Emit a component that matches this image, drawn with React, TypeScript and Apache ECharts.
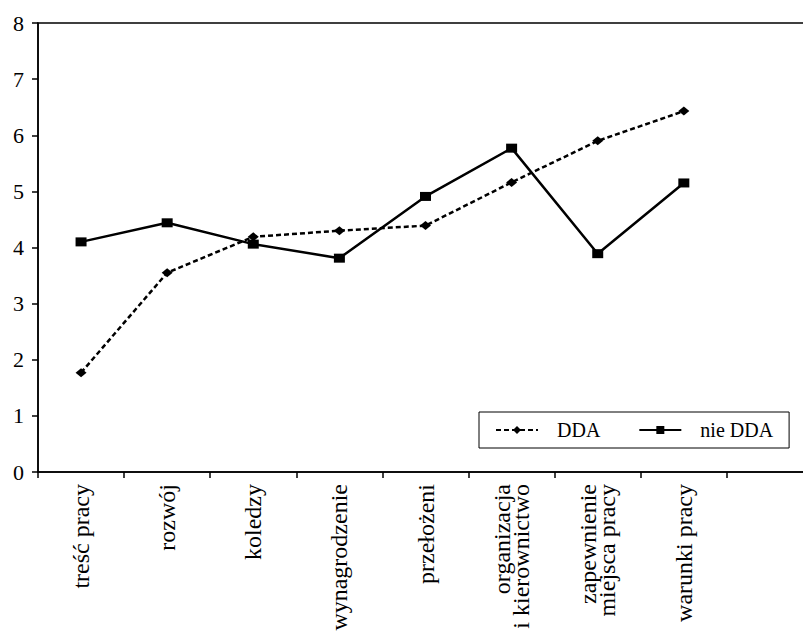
import React, { useEffect, useRef } from "react";
import * as echarts from "echarts";

const categories = [
  "treść pracy",
  "rozwój",
  "koledzy",
  "wynagrodzenie",
  "przełożeni",
  "organizacja\ni kierownictwo",
  "zapewnienie\nmiejsca pracy",
  "warunki pracy",
  "",
];
const ddaValues = [1.77, 3.55, 4.19, 4.3, 4.39, 5.16, 5.9, 6.43];
const nieDdaValues = [4.1, 4.44, 4.06, 3.81, 4.91, 5.77, 3.89, 5.15];
const seriesNames = ["DDA", "nie DDA"];

const FONT = "Liberation Serif";

export default function App() {
  const ref = useRef<HTMLDivElement>(null);
  useEffect(() => {
    if (!ref.current) return;
    const chart = echarts.init(ref.current, undefined, { renderer: "svg" });
    chart.setOption({
      animation: false,
      backgroundColor: "#ffffff",
      textStyle: { fontFamily: FONT },
      grid: {
        left: 38,
        right: 17,
        top: 23,
        bottom: 160,
        outerBoundsMode: "none",
        containLabel: false,
        show: true,
        borderColor: "#000",
        borderWidth: 1.5,
        backgroundColor: "transparent",
      },
      legend: {
        left: 479,
        top: 412,
        orient: "horizontal",
        padding: [8, 16, 8, 16],
        itemGap: 38,
        itemWidth: 42,
        itemHeight: 10,
        borderColor: "#000",
        borderWidth: 1,
        backgroundColor: "#fff",
        textStyle: {
          fontFamily: FONT,
          fontSize: 20,
          color: "#000",
          padding: [0, 0, 0, 14],
        },
        data: seriesNames,
      },
      xAxis: {
        type: "category",
        data: categories,
        boundaryGap: true,
        axisLine: { lineStyle: { color: "#000", width: 1.5 } },
        axisTick: { show: true, alignWithLabel: false, length: 6, lineStyle: { color: "#000", width: 1.5 } },
        axisLabel: {
          interval: 0,
          rotate: 90,
          margin: 12,
          fontFamily: FONT,
          fontSize: 24,
          lineHeight: 19,
          color: "#000",
        },
        splitLine: { show: false },
      },
      yAxis: {
        type: "value",
        min: 0,
        max: 8,
        interval: 1,
        axisLine: { show: true, lineStyle: { color: "#000", width: 1.5 } },
        axisTick: { show: true, inside: false, length: 6, lineStyle: { color: "#000", width: 1.5 } },
        axisLabel: {
          margin: 14,
          fontFamily: FONT,
          fontSize: 22,
          color: "#000",
        },
        splitLine: { show: false },
      },
      series: [
        {
          name: seriesNames[0],
          type: "line",
          data: ddaValues,
          symbol: "diamond",
          symbolSize: [11, 9],
          itemStyle: { color: "#000" },
          lineStyle: { color: "#000", width: 2.5, type: [5, 3] },
        },
        {
          name: seriesNames[1],
          type: "line",
          data: nieDdaValues,
          symbol: "rect",
          symbolSize: [11, 9],
          itemStyle: { color: "#000" },
          lineStyle: { color: "#000", width: 2.5, type: "solid" },
        },
      ],
    });
    return () => chart.dispose();
  }, []);
  return (
    <div
      style={{
        position: "fixed",
        left: 0,
        top: 0,
        width: 803,
        height: 632,
        overflow: "hidden",
        background: "#fff",
      }}
    >
      <div ref={ref} style={{ width: 830, height: 632 }} />
    </div>
  );
}
